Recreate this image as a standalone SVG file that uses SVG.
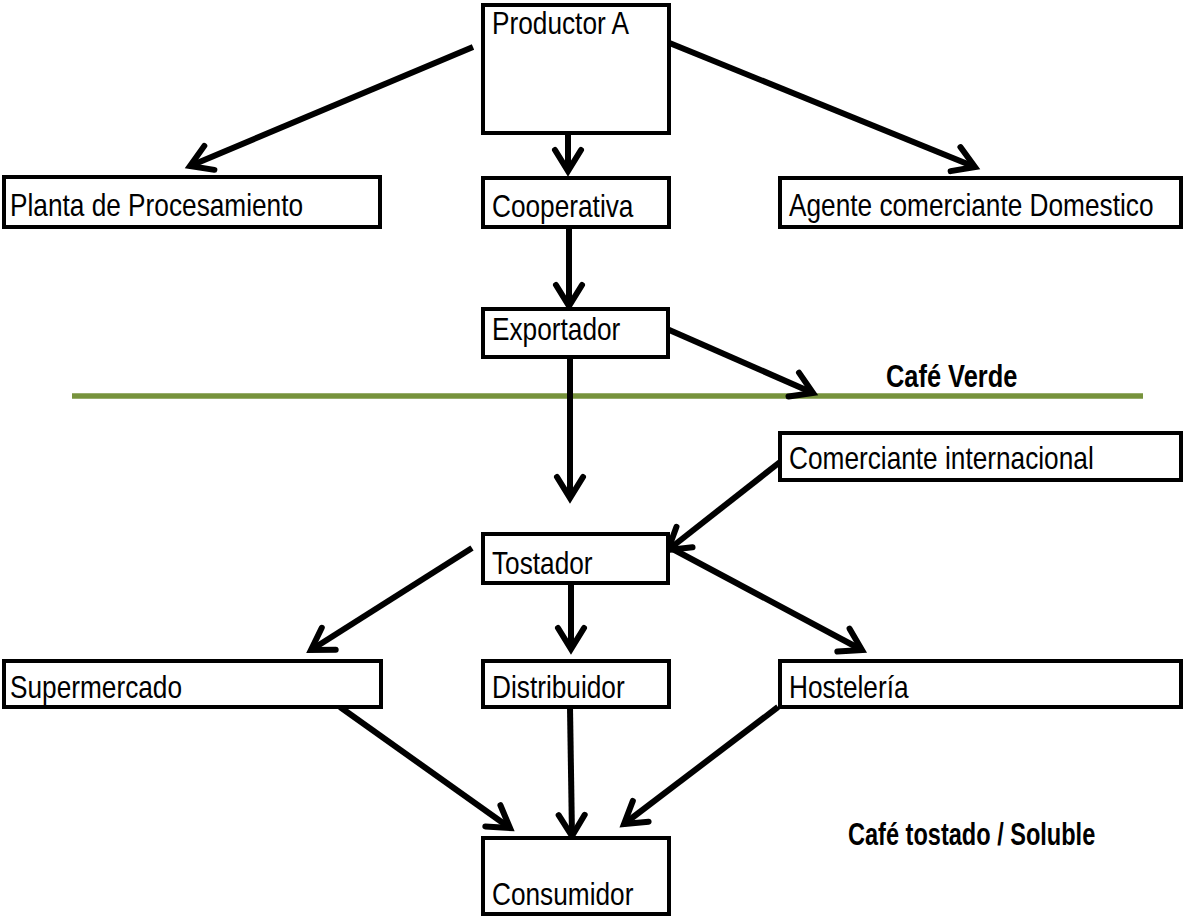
<svg xmlns="http://www.w3.org/2000/svg" width="1189" height="916" viewBox="0 0 1189 916">
<style>
.box{fill:#fff;stroke:#000;stroke-width:4}
.t{font-family:"Liberation Sans",Arial,sans-serif;font-size:32px;fill:#000}
.b{font-family:"Liberation Sans",Arial,sans-serif;font-size:31px;font-weight:bold;fill:#000}
.c{stroke:#000;stroke-width:6;fill:none}
</style>
<defs>
<marker id="ah" markerUnits="userSpaceOnUse" markerWidth="36" markerHeight="36" viewBox="0 0 36 36" refX="28" refY="18" orient="auto">
<path d="M7,5 L28,18 L7,31" fill="none" stroke="#000" stroke-width="6" stroke-linecap="round" stroke-linejoin="miter"/>
</marker>
</defs>
<rect width="1189" height="916" fill="#fff"/>
<line x1="72" y1="396" x2="1143" y2="396" stroke="#77933C" stroke-width="5.5"/>
<g id="connectors">
<line class="c" x1="473" y1="47" x2="190" y2="166" marker-end="url(#ah)"/>
<line class="c" x1="568" y1="133" x2="568" y2="171" marker-end="url(#ah)"/>
<line class="c" x1="667" y1="42" x2="975" y2="167" marker-end="url(#ah)"/>
<line class="c" x1="569" y1="227" x2="569" y2="306" marker-end="url(#ah)"/>
<line class="c" x1="570" y1="358" x2="570" y2="498" marker-end="url(#ah)"/>
<line class="c" x1="667" y1="329" x2="813" y2="393" marker-end="url(#ah)"/>
<line class="c" x1="780" y1="462" x2="668" y2="550" marker-end="url(#ah)"/>
<line class="c" x1="472" y1="548" x2="311" y2="650" marker-end="url(#ah)"/>
<line class="c" x1="571" y1="583" x2="571" y2="649" marker-end="url(#ah)"/>
<line class="c" x1="667" y1="546" x2="862" y2="650" marker-end="url(#ah)"/>
<line class="c" x1="340" y1="707" x2="510" y2="828" marker-end="url(#ah)"/>
<line class="c" x1="570" y1="707" x2="572" y2="836" marker-end="url(#ah)"/>
<line class="c" x1="778" y1="707" x2="624" y2="824" marker-end="url(#ah)"/>
</g>
<g id="productor"><rect class="box" x="483" y="5" width="186" height="128"/><text class="t" transform="translate(492,34) scale(0.82,1)">Productor A</text></g>
<g id="planta"><rect class="box" x="4" y="177" width="376" height="50"/><text class="t" transform="translate(10,216) scale(0.82,1)">Planta de Procesamiento</text></g>
<g id="cooperativa"><rect class="box" x="483" y="178" width="186" height="49"/><text class="t" transform="translate(492,217) scale(0.82,1)">Cooperativa</text></g>
<g id="agente"><rect class="box" x="780" y="178" width="401" height="49"/><text class="t" transform="translate(789,216) scale(0.82,1)">Agente comerciante Domestico</text></g>
<g id="exportador"><rect class="box" x="483" y="309" width="185" height="48"/><text class="t" transform="translate(492,340) scale(0.82,1)">Exportador</text></g>
<g id="cafe-verde"><text class="b" transform="translate(886,387) scale(0.82,1)">Café Verde</text></g>
<g id="comerciante"><rect class="box" x="780" y="433" width="401" height="47"/><text class="t" transform="translate(789,469) scale(0.82,1)">Comerciante internacional</text></g>
<g id="tostador"><rect class="box" x="483" y="534" width="185" height="49"/><text class="t" transform="translate(492,574) scale(0.82,1)">Tostador</text></g>
<g id="supermercado"><rect class="box" x="4" y="661" width="377" height="46"/><text class="t" transform="translate(10,698) scale(0.82,1)">Supermercado</text></g>
<g id="distribuidor"><rect class="box" x="483" y="661" width="186" height="46"/><text class="t" transform="translate(492,698) scale(0.82,1)">Distribuidor</text></g>
<g id="hosteleria"><rect class="box" x="780" y="661" width="401" height="46"/><text class="t" transform="translate(789,698) scale(0.82,1)">Hostelería</text></g>
<g id="consumidor"><rect class="box" x="483" y="838" width="186" height="76"/><text class="t" transform="translate(492,905) scale(0.82,1)">Consumidor</text></g>
<g id="cafe-tostado"><text class="b" transform="translate(848,845) scale(0.76,1)">Café tostado / Soluble</text></g>
</svg>
